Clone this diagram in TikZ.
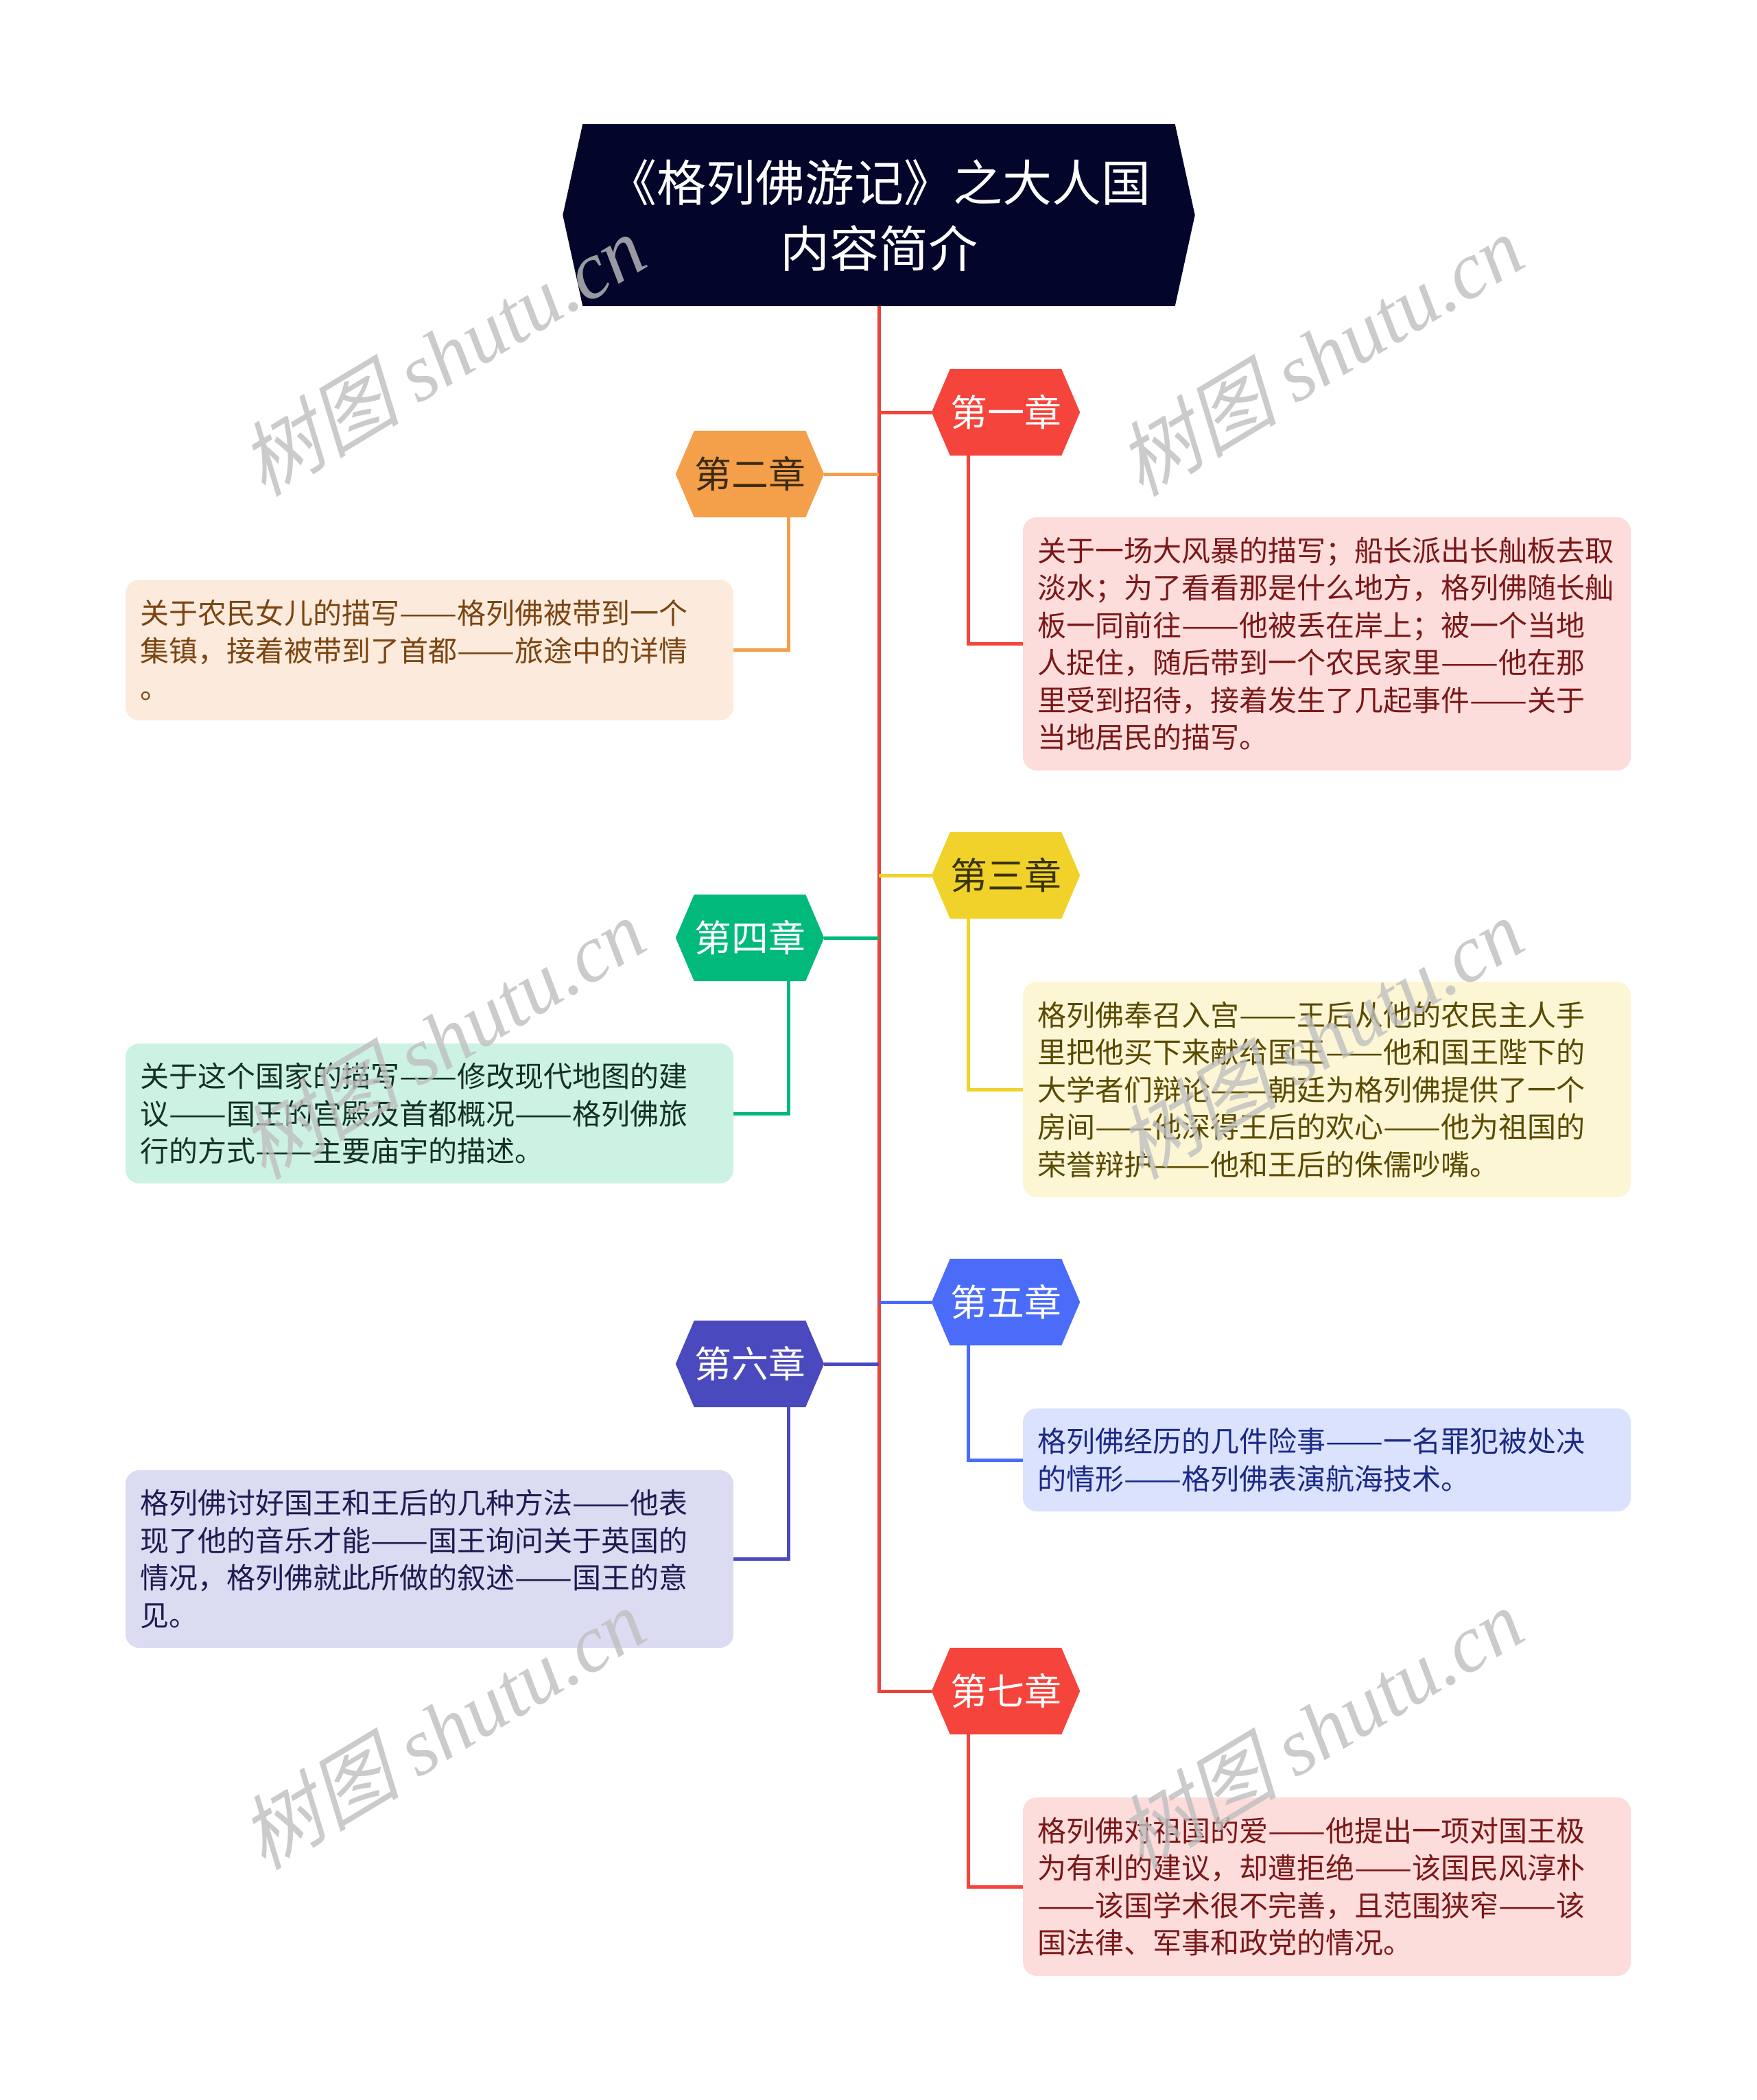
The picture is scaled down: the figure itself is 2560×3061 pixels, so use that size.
\documentclass[tikz,border=0pt]{standalone}
\usepackage{fontspec}
\usepackage{graphicx}
\setmainfont{Noto Sans CJK SC}
\newfontfamily\wmcjk[FakeSlant=0.25]{Noto Sans CJK SC}
\newfontfamily\wmlat{Liberation Serif}
\usetikzlibrary{backgrounds,calc}
\newcommand\dd{\resizebox{2em}{\height}{——}}
\definecolor{titlebg}{HTML}{03052B}
\definecolor{trunk}{HTML}{E5453D}
\definecolor{cA}{HTML}{F5443B}
\definecolor{cB}{HTML}{F4A04A}
\definecolor{cC}{HTML}{F0D22A}
\definecolor{cD}{HTML}{00B97A}
\definecolor{cE}{HTML}{4A6CF8}
\definecolor{cF}{HTML}{4B49BE}
\definecolor{fA}{HTML}{FDDCDC}
\definecolor{fB}{HTML}{FCEBDC}
\definecolor{fC}{HTML}{FCF6D5}
\definecolor{fD}{HTML}{CCF2E4}
\definecolor{fE}{HTML}{DBE2FE}
\definecolor{fF}{HTML}{DBDBF2}
\definecolor{tA}{HTML}{7A1818}
\definecolor{tB}{HTML}{7B4512}
\definecolor{tC}{HTML}{5A4A00}
\definecolor{tD}{HTML}{153024}
\definecolor{tE}{HTML}{1B2A85}
\definecolor{tF}{HTML}{1D1B50}
\definecolor{hB}{HTML}{3B2A14}
\definecolor{hC}{HTML}{3A3300}
\begin{document}
\begin{tikzpicture}[x=1pt,y=-1pt,
  chap/.style={rectangle, minimum width=160pt, minimum height=126pt, inner sep=0pt, font=\fontsize{54}{60}\selectfont},
  box/.style={rectangle, rounded corners=20pt, minimum width=886pt, inner xsep=21pt, inner ysep=0pt, text width=844pt, align=left, font=\fontsize{42}{54.5}\selectfont},
  conn/.style={line width=5pt},
  wm/.style={rotate=31, text=black!25, opacity=0.8, font=\fontsize{118}{120}\selectfont}
]
\useasboundingbox (0,0) rectangle (2560,3061);

% title
\node[rectangle, minimum width=863pt, minimum height=265pt, inner sep=0pt, align=center,
      text=white, font=\fontsize{72}{96}\selectfont] (title) at (1281,313.5)
      {《格列佛游记》之大人国\\内容简介};

% chapters
\node[chap, text=white] (c1) at (1466,601) {第一章};
\node[chap, text=hB]    (c2) at (1093,691) {第二章};
\node[chap, text=hC]    (c3) at (1466,1276) {第三章};
\node[chap, text=white] (c4) at (1093,1367) {第四章};
\node[chap, text=white] (c5) at (1466,1898) {第五章};
\node[chap, text=white] (c6) at (1093,1988) {第六章};
\node[chap, text=white] (c7) at (1466,2465) {第七章};

% boxes
\node[box, fill=fA, text=tA, minimum height=369pt] (b1) at (1934,938.5)
 {关于一场大风暴的描写；船长派出长舢板去取\\淡水；为了看看那是什么地方，格列佛随长舢\\板一同前往\dd 他被丢在岸上；被一个当地\\人捉住，随后带到一个农民家里\dd 他在那\\里受到招待，接着发生了几起事件\dd 关于\\当地居民的描写。};
\node[box, fill=fB, text=tB, minimum height=205pt] (b2) at (626,947.5)
 {关于农民女儿的描写\dd 格列佛被带到一个\\集镇，接着被带到了首都\dd 旅途中的详情\\。};
\node[box, fill=fC, text=tC, minimum height=314pt] (b3) at (1934,1588)
 {格列佛奉召入宫\dd 王后从他的农民主人手\\里把他买下来献给国王\dd 他和国王陛下的\\大学者们辩论\dd 朝廷为格列佛提供了一个\\房间\dd 他深得王后的欢心\dd 他为祖国的\\荣誉辩护\dd 他和王后的侏儒吵嘴。};
\node[box, fill=fD, text=tD, minimum height=204pt] (b4) at (626,1623)
 {关于这个国家的描写\dd 修改现代地图的建\\议\dd 国王的宫殿及首都概况\dd 格列佛旅\\行的方式\dd 主要庙宇的描述。};
\node[box, fill=fE, text=tE, minimum height=150pt] (b5) at (1934,2128)
 {格列佛经历的几件险事\dd 一名罪犯被处决\\的情形\dd 格列佛表演航海技术。};
\node[box, fill=fF, text=tF, minimum height=259pt] (b6) at (626,2272.5)
 {格列佛讨好国王和王后的几种方法\dd 他表\\现了他的音乐才能\dd 国王询问关于英国的\\情况，格列佛就此所做的叙述\dd 国王的意\\见。};
\node[box, fill=fA, text=tA, minimum height=260pt] (b7) at (1934,2750)
 {格列佛对祖国的爱\dd 他提出一项对国王极\\为有利的建议，却遭拒绝\dd 该国民风淳朴\\\dd 该国学术很不完善，且范围狭窄\dd 该\\国法律、军事和政党的情况。};

\begin{scope}[on background layer]
  \fill[white] (0,0) rectangle (2560,3061);
  % trunk
  \draw[conn, draw=trunk] (title.south) |- ([xshift=-27pt]c7.west);
  % branches
  \draw[conn, draw=cA] ([xshift=-27pt]c1.west) -- (c1.west -| title.south);
  \draw[conn, draw=cB] ([xshift=27pt]c2.east) -- (c2.east -| title.south);
  \draw[conn, draw=cC] ([xshift=-27pt]c3.west) -- (c3.west -| title.south);
  \draw[conn, draw=cD] ([xshift=27pt]c4.east) -- (c4.east -| title.south);
  \draw[conn, draw=cE] ([xshift=-27pt]c5.west) -- (c5.west -| title.south);
  \draw[conn, draw=cF] ([xshift=27pt]c6.east) -- (c6.east -| title.south);
  % chapter to box
  \draw[conn, draw=cA] ([xshift=27pt]c1.south west) |- (b1.west);
  \draw[conn, draw=cB] ([xshift=-25pt]c2.south east) |- (b2.east);
  \draw[conn, draw=cC] ([xshift=27pt]c3.south west) |- (b3.west);
  \draw[conn, draw=cD] ([xshift=-25pt]c4.south east) |- (b4.east);
  \draw[conn, draw=cE] ([xshift=27pt]c5.south west) |- (b5.west);
  \draw[conn, draw=cF] ([xshift=-25pt]c6.south east) |- (b6.east);
  \draw[conn, draw=cA] ([xshift=27pt]c7.south west) |- (b7.west);
  % title hexagon
  \fill[titlebg] (title.north west) -- (title.north east) -- ([xshift=29pt]title.east)
     -- (title.south east) -- (title.south west) -- ([xshift=-29pt]title.west) -- cycle;
  % chapter hexagons
  \foreach \n/\c in {c1/cA,c2/cB,c3/cC,c4/cD,c5/cE,c6/cF,c7/cA}{
    \fill[\c] (\n.north west) -- (\n.north east) -- ([xshift=27pt]\n.east)
       -- (\n.south east) -- (\n.south west) -- ([xshift=-27pt]\n.west) -- cycle;
  }
\end{scope}

% watermarks
\node[wm] (wm1) at (644,517) {{\wmcjk 树图} {\wmlat\itshape shutu.cn}};
\node[wm] (wm2) at (1923,517) {{\wmcjk 树图} {\wmlat\itshape shutu.cn}};
\node[wm] (wm3) at (644,1513) {{\wmcjk 树图} {\wmlat\itshape shutu.cn}};
\node[wm] (wm4) at (1923,1513) {{\wmcjk 树图} {\wmlat\itshape shutu.cn}};
\node[wm] (wm5) at (644,2519) {{\wmcjk 树图} {\wmlat\itshape shutu.cn}};
\node[wm] (wm6) at (1923,2519) {{\wmcjk 树图} {\wmlat\itshape shutu.cn}};
\end{tikzpicture}
\end{document}
